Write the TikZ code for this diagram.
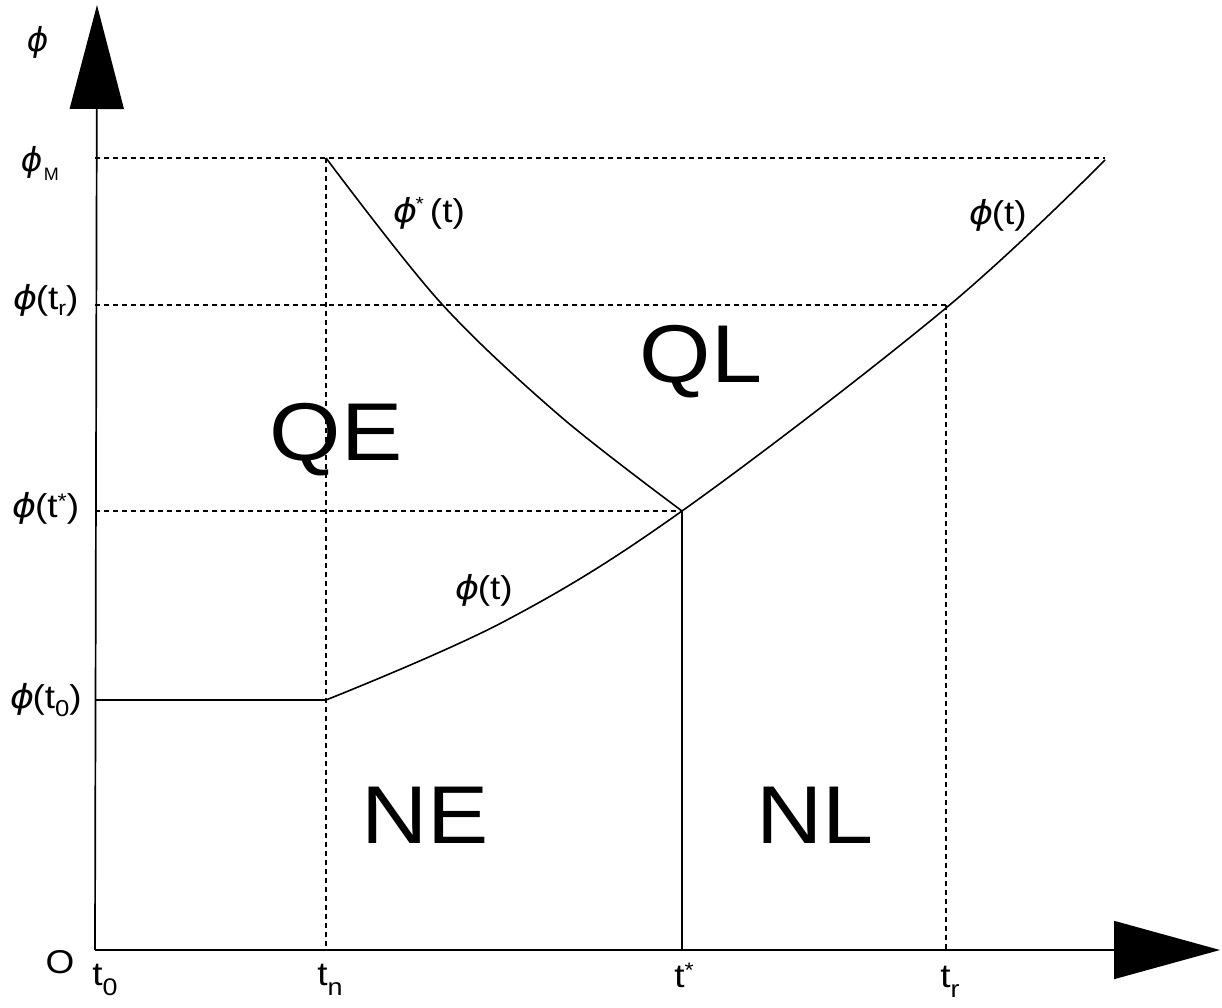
\documentclass[tikz,border=0pt]{standalone}
\usepackage{fontspec}
\setmainfont{Liberation Sans}
\newfontfamily\phifont{DejaVu Sans}[FakeSlant=0.18]
\usetikzlibrary{arrows.meta}
\newcommand\myphi{{\phifont ϕ}}
\newcommand\wide[1]{\scalebox{1.12}[1]{#1}}
\begin{document}
\begin{tikzpicture}[x=1pt,y=-1pt,
  lbl/.style={font=\fontsize{33}{38}\selectfont, inner sep=0pt},
  big/.style={font=\fontsize{82}{90}\selectfont, inner sep=0pt},
  axisline/.style={line width=1.7pt},
  guide/.style={line width=1.5pt, dash pattern=on 5pt off 4pt},
  curveline/.style={line width=1.6pt}]
\useasboundingbox (0,0) rectangle (1222,1008);
% key points
\coordinate (O) at (95,950);
\coordinate (ytip) at (97,5);
\coordinate (xtip) at (1220,950);
\coordinate (yM) at (95,158);
\coordinate (ytr) at (95,305);
\coordinate (yts) at (95,511);
\coordinate (yt0) at (95,700);
\coordinate (nM) at (326,158);
\coordinate (n0) at (326,700);
\coordinate (nb) at (326,950);
\coordinate (S) at (682,511);
\coordinate (sb) at (682,950);
\coordinate (R) at (946,308);
\coordinate (rb) at (946,950);
\coordinate (E) at (1105,160);
\coordinate (Mend) at (1105,158);
\coordinate (Rtop) at (946,305);
% guides
\draw[guide] (yM) -- (Mend);
\draw[guide] (ytr) -- (Rtop);
\draw[guide] (yts) -- (S);
\draw[guide] (nM) -- (nb);
\draw[guide] (Rtop) -- (rb);
% solid lines
\draw[curveline] (yt0) -- (n0);
\draw[curveline] (S) -- (sb);
\draw[curveline] plot[smooth, tension=0.6] coordinates {(n0) (505,621) (S) (R) (E)};
\draw[curveline] plot[smooth, tension=0.55] coordinates {(nM) (440,302) (560,416) (S)};
% axes
\draw[axisline,-{Triangle[length=104pt,width=54pt]}] (O) -- (ytip);
\draw[axisline,-{Triangle[length=106pt,width=58pt]}] (O) -- (xtip);
% labels
\node[lbl] (lphi) at (36,42) {\myphi};
\node[lbl] (lM) at (39,163) {\myphi\kern3pt\raisebox{-9pt}{\fontsize{18}{20}\selectfont M}};
\node[lbl] (ltr) at (45,300) {\wide{\myphi(t\raisebox{-6pt}{\fontsize{21}{22}\selectfont r})}};
\node[lbl] (lts) at (45,508) {\wide{\myphi(t\raisebox{9pt}{\fontsize{21}{22}\selectfont *})}};
\node[lbl] (lt0) at (45,700) {\wide{\myphi(t\raisebox{-8pt}{\fontsize{23}{24}\selectfont 0})}};
\node[lbl] (lO) at (60,962) {\wide{O}};
\node[lbl] (lt0x) at (105,980) {\wide{t\raisebox{-10pt}{\fontsize{24}{24}\selectfont 0}}};
\node[lbl] (ltn) at (330,980) {\wide{t\raisebox{-10pt}{\fontsize{24}{24}\selectfont n}}};
\node[lbl] (ltsx) at (684,975) {\wide{t\raisebox{10pt}{\fontsize{21}{22}\selectfont *}}};
\node[lbl] (ltrx) at (950,982) {\wide{t\raisebox{-10pt}{\fontsize{24}{24}\selectfont r}}};
\node[lbl] (lphis) at (428,213) {\wide{\myphi\raisebox{12pt}{\fontsize{19}{20}\selectfont *}\,(t)}};
\node[lbl] (lphiu) at (997,215) {\wide{\myphi(t)}};
\node[lbl] (lphil) at (483,590) {\wide{\myphi(t)}};
\node[big] (QE) at (336,440) {\wide{QE}};
\node[big] (QL) at (701,362) {\wide{QL}};
\node[big] (NE) at (425,815) {\wide{NE}};
\node[big] (NL) at (815,815) {\wide{NL}};
\end{tikzpicture}
\end{document}
